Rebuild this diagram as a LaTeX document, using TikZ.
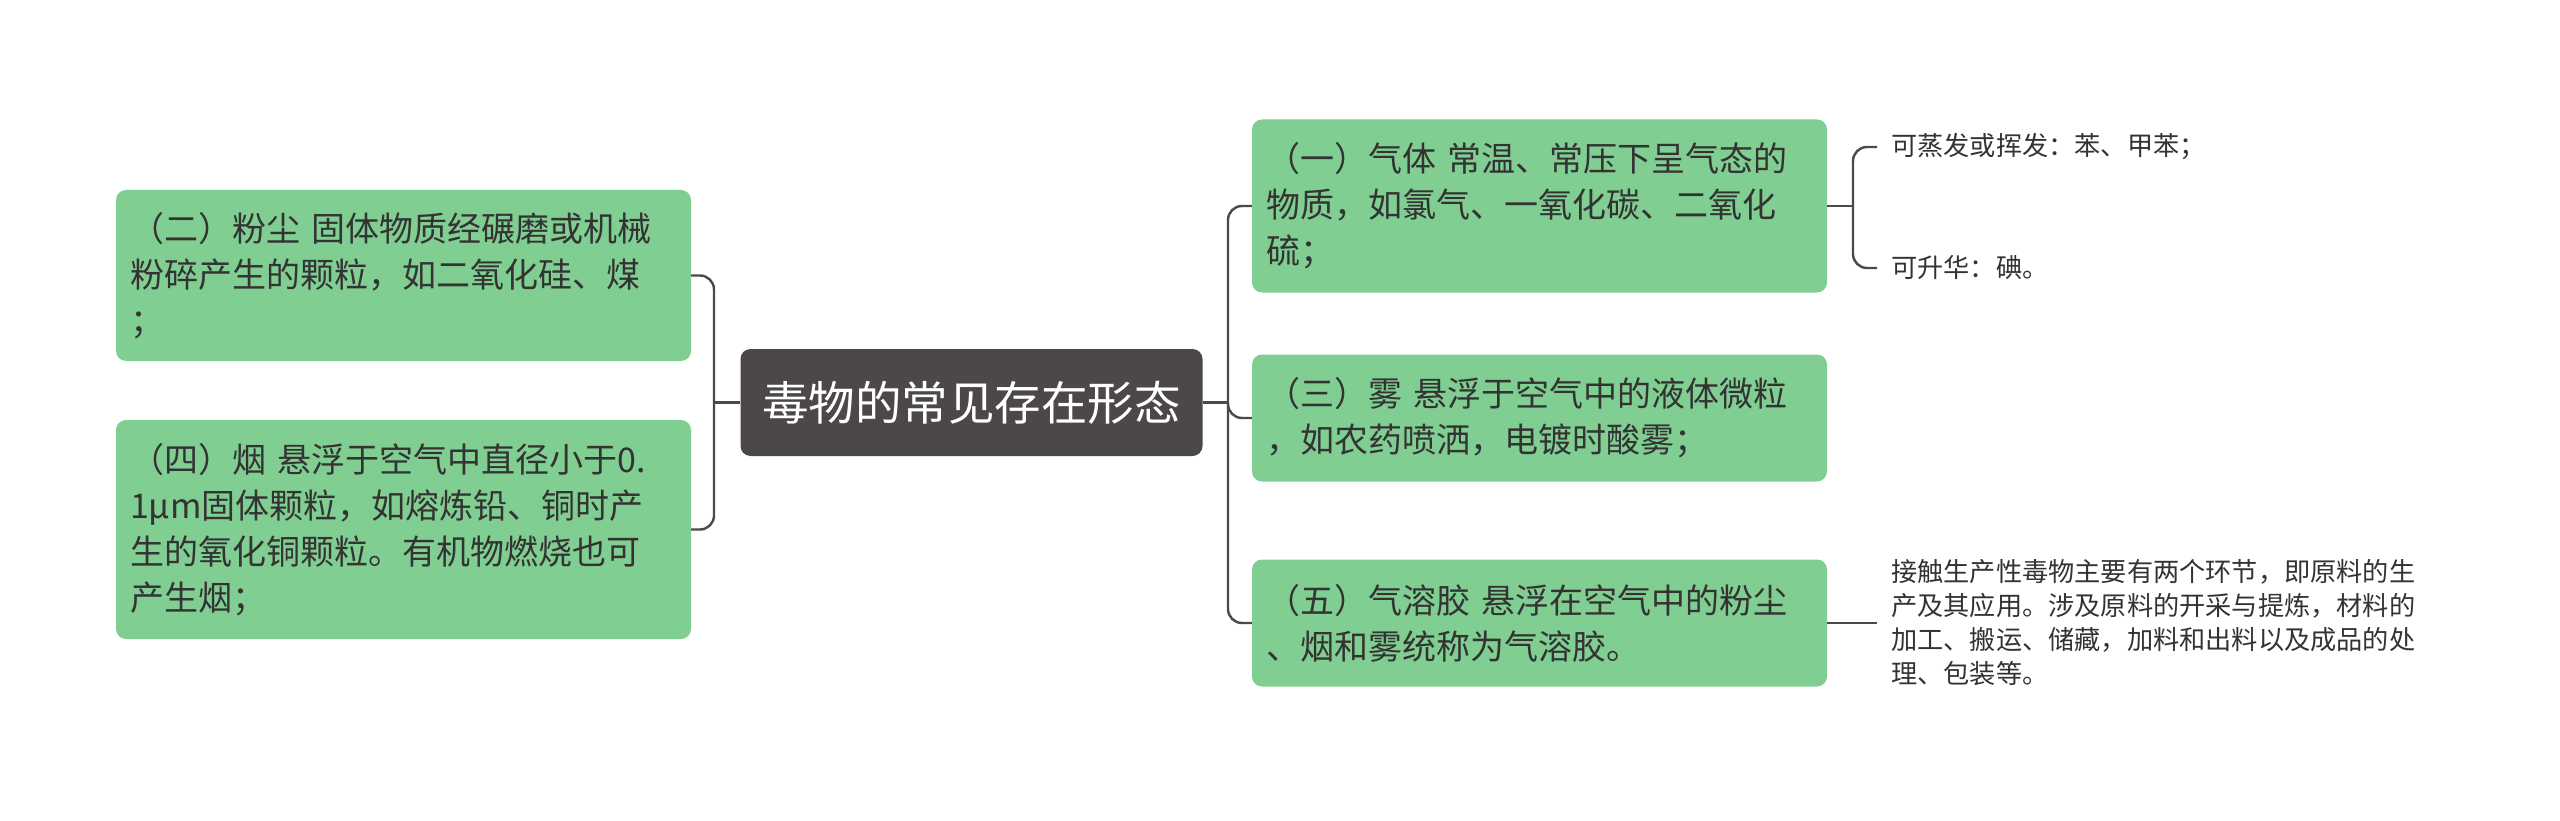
\documentclass[tikz,border=0pt]{standalone}
\usepackage{fontspec}
\setmainfont{Noto Sans CJK SC}
\usepackage{tikz}
\definecolor{leafgreen}{RGB}{128,206,145}
\definecolor{rootgray}{RGB}{77,72,72}
\definecolor{linkgray}{RGB}{74,74,74}
\definecolor{txtgray}{RGB}{51,51,51}
\tikzstyle{Root}=[rectangle, rounded corners=10pt, fill=rootgray, text=white, minimum width=462pt, minimum height=107pt, font=\fontsize{46.5}{56}\selectfont]
\tikzstyle{Topic}=[rectangle, rounded corners=10pt, fill=leafgreen, text=txtgray, minimum width=575pt, text width=547pt, inner xsep=14pt, align=left, font=\fontsize{34}{46}\selectfont]
\tikzstyle{Note}=[inner xsep=14pt, inner ysep=0pt, anchor=west, align=left, text=txtgray, font=\fontsize{26.2}{34}\selectfont]
\tikzstyle{Link}=[draw=linkgray, line width=2.4pt, rounded corners=14pt]

\begin{document}
\begin{tikzpicture}[x=1pt, y=-1pt]
    \useasboundingbox (0,0) rectangle (2560,821);
    \path
    (971.5,402.5) node[Root] (root) {毒物的常见存在形态}
    (403.5,275.5) node[Topic, minimum height=171pt] (dust) {（二）粉尘 固体物质经碾磨或机械\\粉碎产生的颗粒，如二氧化硅、煤\\；}
    (403.5,529.5) node[Topic, minimum height=219pt] (smoke) {（四）烟 悬浮于空气中直径小于0.\\1μm固体颗粒，如熔炼铅、铜时产\\生的氧化铜颗粒。有机物燃烧也可\\产生烟；}
    (1539.5,206) node[Topic, minimum height=173pt] (gas) {（一）气体 常温、常压下呈气态的\\物质，如氯气、一氧化碳、二氧化\\硫；}
    (1539.5,418) node[Topic, minimum height=127pt] (mist) {（三）雾 悬浮于空气中的液体微粒\\，如农药喷洒，电镀时酸雾；}
    (1539.5,623) node[Topic, minimum height=127pt] (aerosol) {（五）气溶胶 悬浮在空气中的粉尘\\、烟和雾统称为气溶胶。};
    \path (1877,147) node[Note] (volatile) {可蒸发或挥发：苯、甲苯；}
    (1877,268) node[Note] (sublime) {可升华：碘。}
    (1877,623) node[Note] (contact) {接触生产性毒物主要有两个环节，即原料的生\\产及其应用。涉及原料的开采与提炼，材料的\\加工、搬运、储藏，加料和出料以及成品的处\\理、包装等。};

    \coordinate (lspine) at (714,402.5);
    \coordinate (rspine) at (1228,402.5);
    \coordinate (gasfork) at (1853,206);
    \draw[Link] (root.west) -- (lspine);
    \draw[Link] (dust.east) -| (lspine) |- (smoke.east);
    \draw[Link] (root.east) -- (rspine);
    \draw[Link] (gas.west) -| (rspine) |- (aerosol.west);
    \draw[Link] (rspine) |- (mist.west);
    \draw[Link] (gas.east) -- (gasfork);
    \draw[Link] (volatile.west) -| (gasfork) |- (sublime.west);
    \draw[Link] (aerosol.east) -- (contact.west);
\end{tikzpicture}
\end{document}
